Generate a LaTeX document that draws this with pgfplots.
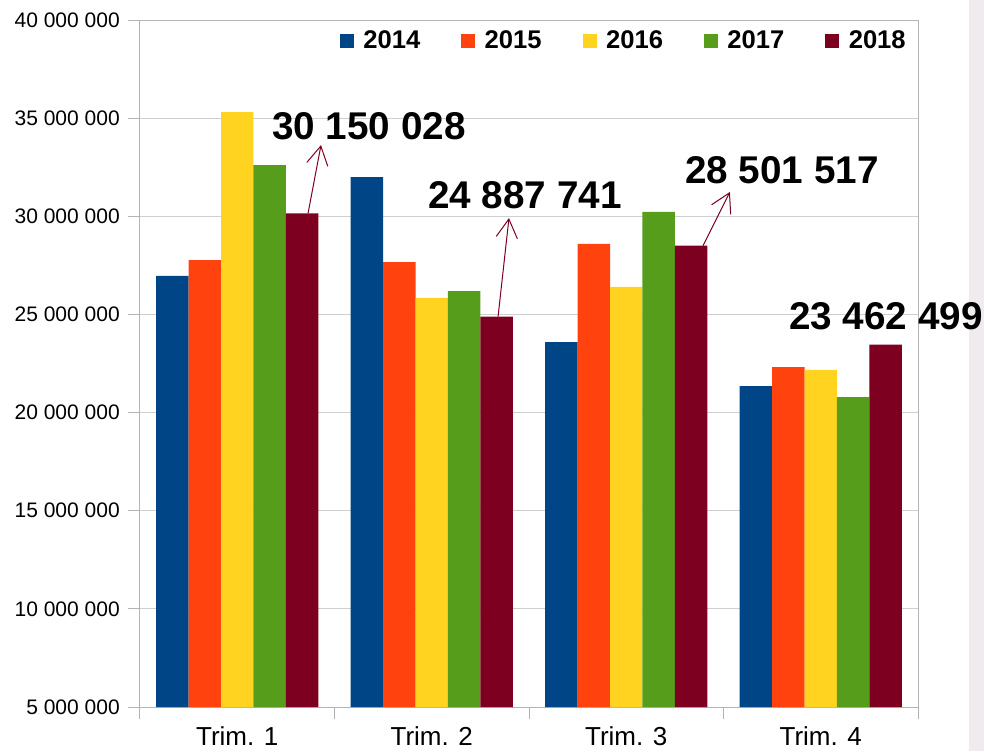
\documentclass[border=0pt]{standalone}
\usepackage{fontspec}
\setmainfont{Liberation Sans}
\usepackage{pgfplots}
\usepackage{pgfplotstable}
\pgfplotsset{compat=1.18}
\usetikzlibrary{arrows.meta}

\definecolor{c14}{HTML}{004586}
\definecolor{c15}{HTML}{FF420E}
\definecolor{c16}{HTML}{FFD320}
\definecolor{c17}{HTML}{579D1C}
\definecolor{c18}{HTML}{7E0021}
\definecolor{gridc}{HTML}{CFCFCF}
\definecolor{axisc}{HTML}{B3B3B3}
\definecolor{strip}{HTML}{EFEBEF}

% quarterly values per year
\pgfplotstableread{
x y14 y15 y16 y17 y18
0 26960000 27770000 35310000 32610000 30150028
1 32000000 27670000 25840000 26190000 24887741
2 23590000 28590000 26400000 30220000 28501517
3 21350000 22320000 22170000 20790000 23462499
}\datatable

\begin{document}
\begin{tikzpicture}
\path[use as bounding box] (-105pt,-33pt) rectangle (633pt,530.25pt);
\fill[strip] (621.75pt,-33pt) rectangle (633pt,530.25pt);
\begin{axis}[
  at={(0,0)}, anchor=south west,
  scale only axis, width=583.5pt, height=515.25pt,
  xmin=-0.5, xmax=3.5, ymin=5000000, ymax=40000000,
  ybar=0pt, bar width=0.1666,
  clip=false,
  axis line style={axisc, line width=0.75pt},
  ymajorgrids, grid style={gridc, line width=0.75pt},
  tick pos=left, tick align=outside,
  ytick={5000000,10000000,15000000,20000000,25000000,30000000,35000000,40000000},
  yticklabels={5 000 000,10 000 000,15 000 000,20 000 000,25 000 000,30 000 000,35 000 000,40 000 000},
  scaled y ticks=false,
  yticklabel style={font=\fontsize{15.75}{16}\selectfont, inner sep=0pt, xshift=-6pt},
  major tick length=9pt,
  tick style={axisc, line width=0.75pt},
  xtick={-0.5,0.5,1.5,2.5,3.5}, xticklabels={},
  extra x ticks={0,1,2,3},
  extra x tick labels={Trim. 1,Trim. 2,Trim. 3,Trim. 4},
  extra x tick style={major tick length=0pt, grid=none,
    xticklabel style={font=\fontsize{19.5}{20}\selectfont, anchor=base, inner sep=0pt, yshift=-29pt}},
  legend columns=5,
  legend style={draw=none, fill=none, inner sep=0pt,
    at={(rel axis cs:1,1)}, anchor=north east, xshift=-9pt, yshift=-8pt,
    font=\bfseries\fontsize{19.2}{20}\selectfont,
    nodes={inner sep=0pt},
    /tikz/every odd column/.append style={column sep=7pt},
    /tikz/every even column/.append style={column sep=30.8pt}},
]
\addplot[fill=c14, draw=none, legend image code/.code={\fill[c14] (0pt,-5.25pt) rectangle (10.5pt,5.25pt);}] table[x=x,y=y14]{\datatable};
\addplot[fill=c15, draw=none, legend image code/.code={\fill[c15] (0pt,-5.25pt) rectangle (10.5pt,5.25pt);}] table[x=x,y=y15]{\datatable};
\addplot[fill=c16, draw=none, legend image code/.code={\fill[c16] (0pt,-5.25pt) rectangle (10.5pt,5.25pt);}] table[x=x,y=y16]{\datatable};
\addplot[fill=c17, draw=none, legend image code/.code={\fill[c17] (0pt,-5.25pt) rectangle (10.5pt,5.25pt);}] table[x=x,y=y17]{\datatable};
\addplot[fill=c18, draw=none, legend image code/.code={\fill[c18] (0pt,-5.25pt) rectangle (10.5pt,5.25pt);}] table[x=x,y=y18]{\datatable};
\legend{2014,2015,2016,2017,2018}

% annotations
\draw[c18, line width=0.75pt, -{Straight Barb[length=14pt,width=16pt]}] (axis cs:0.364,30150028) -- (axis cs:0.4306,33630000);
\draw[c18, line width=0.75pt, -{Straight Barb[length=14pt,width=16pt]}] (axis cs:1.341,24887741) -- (axis cs:1.397,29910000);
\draw[c18, line width=0.75pt, -{Straight Barb[length=14pt,width=16pt]}] (axis cs:2.395,28501517) -- (axis cs:2.533,31240000);
\node[inner sep=0pt, font=\bfseries\fontsize{29}{30}\selectfont] at (axis cs:0.677,34600000) {30 150 028};
\node[inner sep=0pt, font=\bfseries\fontsize{29}{30}\selectfont] at (axis cs:1.479,31080000) {24 887 741};
\node[inner sep=0pt, font=\bfseries\fontsize{29}{30}\selectfont] at (axis cs:2.801,32360000) {28 501 517};
\node[inner sep=0pt, font=\bfseries\fontsize{29}{30}\selectfont] at (axis cs:3.335,24920000) {23 462 499};
\end{axis}
\end{tikzpicture}
\end{document}
